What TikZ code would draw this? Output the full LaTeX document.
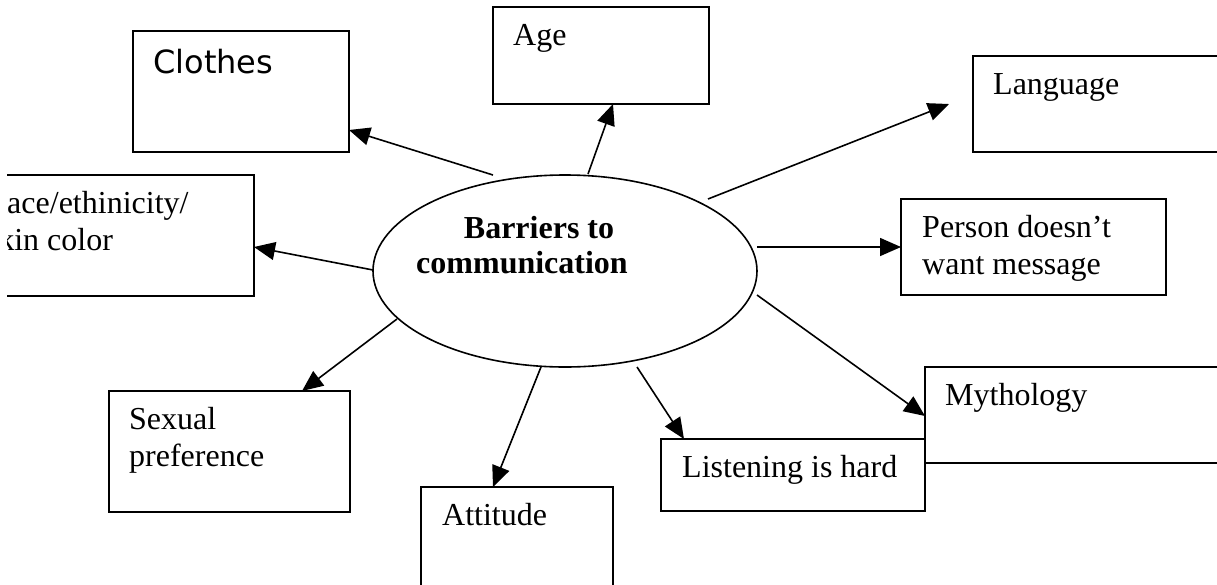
\documentclass[tikz,border=0pt]{standalone}
\usepackage{fontspec}
\setmainfont{Liberation Serif}
\newfontfamily\clothesfont{DejaVu Sans}
\usetikzlibrary{shapes.geometric,arrows.meta}
\begin{document}
\begin{tikzpicture}[x=1pt,y=-1pt,
  box/.style={draw, line width=1.6pt, rectangle, inner sep=0pt, outer sep=0pt, anchor=north west},
  txt/.style={inner sep=0pt, anchor=north west, align=left, font=\fontsize{32}{37}\selectfont},
  arr/.style={line width=1.6pt, -{Triangle[length=21pt,width=18pt]}}]
\useasboundingbox (0,0) rectangle (1217,584);
\clip (7,0) rectangle (1217,584);
% central ellipse
\node[draw, ellipse, line width=1.6pt, minimum width=384pt, minimum height=192pt, inner sep=0pt, outer sep=0pt] (hub) at (565,271) {};
\node[inner sep=0pt, anchor=north, align=center, font=\fontsize{32}{35}\selectfont\bfseries] (hubT) at (522,213.5) {\strut\hspace*{34pt}Barriers to\\communication};
% boxes
\node[box, minimum width=216pt, minimum height=121pt] (clothes) at (133,31) {};
\node[box, minimum width=216pt, minimum height=97pt] (age) at (493,7) {};
\node[box, minimum width=290pt, minimum height=96pt] (language) at (973,56) {};
\node[box, minimum width=288pt, minimum height=121pt] (race) at (-34,175) {};
\node[box, minimum width=265pt, minimum height=96pt] (person) at (901,199) {};
\node[box, minimum width=320pt, minimum height=96pt] (myth) at (925,367) {};
\node[box, minimum width=264pt, minimum height=72pt] (listen) at (661,439) {};
\node[box, minimum width=241pt, minimum height=121pt] (sexual) at (109,391) {};
\node[box, minimum width=192pt, minimum height=130pt] (att) at (421,487) {};
% texts
\node[txt, font=\clothesfont\fontsize{32}{37}\selectfont] (clothesT) at (153,47.1) {\strut Clothes};
\node[txt] (ageT) at (513,19.1) {\strut Age};
\node[txt] (languageT) at (993,68.1) {\strut Language};
\node[txt] (raceT) at (-14.3,187.1) {\strut Race/ethinicity/\\skin color};
\node[txt] (personT) at (922,211.1) {\strut Person doesn’t\\want message};
\node[txt] (mythT) at (945,379.1) {\strut Mythology};
\node[txt] (listenT) at (682,451.1) {\strut Listening is hard};
\node[txt] (sexualT) at (129,403.1) {\strut Sexual\\preference};
\node[txt] (attT) at (442,499.1) {\strut Attitude};
% connectors
\draw[arr] ([xshift=-72pt,yshift=96pt]hub.center) -- ([yshift=22pt]clothes.south east);
\draw[arr] ([xshift=23pt,yshift=97pt]hub.center) -- ([xshift=120pt]age.south west);
\draw[arr] ([xshift=143pt,yshift=72pt]hub.center) -- ([xshift=-24pt]language.west);
\draw[arr] ([xshift=-192pt,yshift=1pt]hub.center) -- ([yshift=-11.5pt]race.east);
\draw[arr] ([xshift=192pt,yshift=24pt]hub.center) -- (person.west);
\draw[arr] ([xshift=192pt,yshift=-24pt]hub.center) -- ([yshift=-49pt]myth.north west);
\draw[arr] ([xshift=72pt,yshift=-96pt]hub.center) -- ([xshift=23pt]listen.north west);
\draw[arr] ([xshift=-24pt,yshift=-96pt]hub.center) -- ([xshift=72pt]att.north west);
\draw[arr] ([xshift=-168pt,yshift=-48pt]hub.center) -- ([xshift=193pt]sexual.north west);
\end{tikzpicture}
\end{document}
